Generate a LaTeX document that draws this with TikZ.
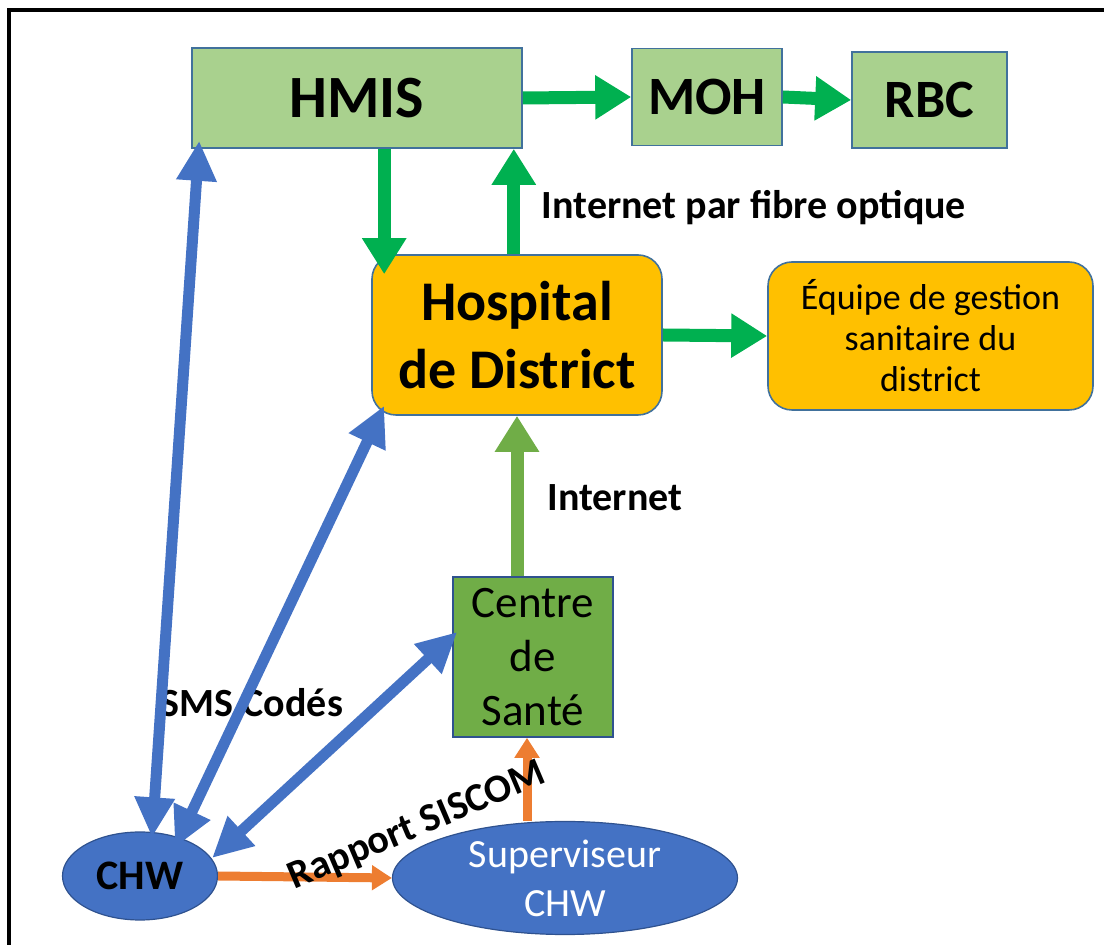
\documentclass[tikz,border=0pt]{standalone}
\usepackage{fontspec}
\setmainfont{Carlito}
\usepackage{tikz}
\usepackage{xcolor}
\usetikzlibrary{arrows.meta,shapes.geometric}

\definecolor{boxgreen}{HTML}{A9D18E}
\definecolor{boxorange}{HTML}{FFC000}
\definecolor{boxcentre}{HTML}{70AD47}
\definecolor{edgeblue}{HTML}{41719C}
\definecolor{darkblue}{HTML}{2F528F}
\definecolor{fillblue}{HTML}{4472C4}
\definecolor{arrowgreen}{HTML}{00B050}
\definecolor{arrowlight}{HTML}{70AD47}
\definecolor{arrowblue}{HTML}{4472C4}
\definecolor{arroworange}{HTML}{ED7D31}

\begin{document}
\begin{tikzpicture}[x=0.5pt,y=-0.5pt]
	\tikzset{
	box/.style 	= {draw=edgeblue, line width=0.8pt, inner sep=0pt, align=center},
	blob/.style 	= {ellipse, draw=darkblue, line width=0.6pt, fill=fillblue, inner sep=0pt, align=center},
	lbl/.style 	= {inner sep=0pt, font=\fontsize{20}{24}\selectfont\bfseries},
	garrow/.style 	= {draw=arrowgreen, line width=6.5pt, -{Triangle[length=18pt,width=21pt]}},
	larrow/.style 	= {draw=arrowlight, line width=6.5pt, -{Triangle[length=18pt,width=21pt]}},
	barrow/.style 	= {draw=arrowblue, line width=5.5pt, {Triangle[length=20pt,width=19pt]}-{Triangle[length=20pt,width=19pt]}},
	oarrow/.style 	= {draw=arroworange, line width=4.5pt, -{Triangle[length=10pt,width=12pt]}}}
	
	\useasboundingbox (0,0) rectangle (1104,945);
	\draw[line width=2.2pt] (1130,10) -- (9,10) -- (9,970);
	
	\node[box, fill=boxgreen, minimum width=165pt, minimum height=50pt,
		font=\fontsize{30}{36}\selectfont\bfseries] (0) at (357,98) {HMIS};
	\node[box, fill=boxgreen, minimum width=75pt, minimum height=48.5pt,
		font=\fontsize{27}{32}\selectfont\bfseries] (1) at (707,97) {MOH};
	\node[box, fill=boxgreen, minimum width=77.5pt, minimum height=48pt,
		font=\fontsize{27}{32}\selectfont\bfseries] (2) at (929.5,100) {RBC};
	
	\node[box, fill=boxorange, rounded corners=12pt, minimum width=145pt, minimum height=80pt,
		font=\fontsize{28}{34}\selectfont\bfseries] (3) at (517,335) {Hospital\\de District};
	\node[box, fill=boxorange, rounded corners=12pt, minimum width=162.5pt, minimum height=74pt,
		font=\fontsize{18}{20.5}\selectfont] (4) at (930.5,336) {Équipe de gestion\\sanitaire du\\district};
	
	\node[box, draw=darkblue, fill=boxcentre, minimum width=80pt, minimum height=80pt,
		font=\fontsize{22.5}{27}\selectfont] (5) at (533,657) {Centre\\de\\Santé};
	
	\node[blob, minimum width=77.5pt, minimum height=44pt,
		font=\fontsize{21}{25}\selectfont\bfseries] (6) at (140,876) {CHW};
	\node[blob, minimum width=172.5pt, minimum height=56.5pt, text=white,
		font=\fontsize{20}{24.5}\selectfont] (7) at (565,878) {Superviseur\\CHW};
	
	\node[lbl] (8) at (754,208) {Internet par fibre optique};
	\node[lbl] (9) at (615,498) {Internet};
	\node[lbl] (10) at (252,703) {SMS Codés};
	
	\draw[garrow] (0.east) -- (1.west);
	\draw[garrow] (1.east) -- (2.west);
	\draw[garrow] ([xshift=6.5pt]0.south -| 3.north west) -- ([xshift=6.5pt,yshift=-10pt]3.north west);
	\draw[garrow] ([xshift=-4.5pt]3.north -| 0.south east) -- ([xshift=-4.5pt]0.south east);
	\draw[garrow] (3.east) -- (4.west);
	\draw[larrow] (5.north -| 3.south) -- (3.south);
	
	\draw[barrow] ([xshift=6pt,yshift=-3pt]6.north) -- ([xshift=4pt,yshift=4pt]0.south west);
	\draw[barrow] ([xshift=17.5pt,yshift=-8pt]6.north) -- ([xshift=6.5pt,yshift=5pt]3.south west);
	\draw[barrow] ([xshift=-3pt,yshift=9pt]6.east) -- ([xshift=2.5pt,yshift=12.5pt]5.west);
	
	\draw[oarrow] (6.east) -- (7.west);
	\draw[oarrow] ([xshift=-19pt]7.north) -- ([xshift=-19pt]7.north |- 5.south);
	
	\node[lbl, anchor=base, rotate=23] (11) at (421,836) {Rapport SISCOM};
	
\end{tikzpicture}
\end{document}
